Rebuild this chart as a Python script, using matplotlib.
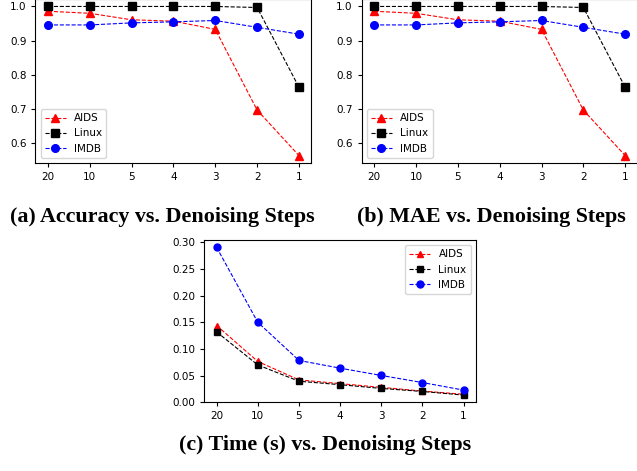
import matplotlib
matplotlib.use("Agg")
import matplotlib.pyplot as plt

steps = ["20", "10", "5", "4", "3", "2", "1"]

acc_aids = [0.986, 0.980, 0.961, 0.957, 0.933, 0.697, 0.564]
acc_linux = [1.000, 1.000, 1.000, 1.000, 1.000, 0.997, 0.764]
acc_imdb = [0.946, 0.946, 0.952, 0.955, 0.959, 0.939, 0.919]

mae_aids = [0.986, 0.980, 0.961, 0.957, 0.933, 0.697, 0.564]
mae_linux = [1.000, 1.000, 1.000, 1.000, 1.000, 0.997, 0.764]
mae_imdb = [0.946, 0.946, 0.952, 0.955, 0.959, 0.939, 0.919]

time_aids = [0.144, 0.0765, 0.042, 0.035, 0.028, 0.021, 0.015]
time_linux = [0.132, 0.070, 0.0395, 0.033, 0.026, 0.0203, 0.0135]
time_imdb = [0.2906, 0.150, 0.0785, 0.064, 0.0503, 0.037, 0.0229]

captions = ["(a) Accuracy vs. Denoising Steps",
            "(b) MAE vs. Denoising Steps",
            "(c) Time (s) vs. Denoising Steps"]

plt.rcParams['font.family'] = ['DejaVu Sans']
plt.rcParams['font.size'] = 7.5

fig = plt.figure(figsize=(6.37, 4.71), dpi=100)
ax_a = fig.add_axes([0.0557, 0.6539, 0.4333, 0.3482])
ax_b = fig.add_axes([0.5678, 0.6539, 0.4333, 0.3482])
ax_c = fig.add_axes([0.3207, 0.1459, 0.4265, 0.3446])

def draw(ax, a, l, i, loc, ms):
    x = range(len(steps))
    ax.plot(x, a, '--', color='red', marker='^', lw=0.8, ms=ms, label='AIDS')
    ax.plot(x, l, '--', color='black', marker='s', lw=0.8, ms=ms, label='Linux')
    ax.plot(x, i, '--', color='blue', marker='o', lw=0.8, ms=ms, label='IMDB')
    ax.set_xticks(list(x))
    ax.set_xticklabels(steps)
    ax.tick_params(labelsize=7.5, length=3)
    ax.legend(loc=loc, fontsize=7.5)

draw(ax_a, acc_aids, acc_linux, acc_imdb, 'lower left', 5.5)
draw(ax_b, mae_aids, mae_linux, mae_imdb, 'lower left', 5.5)
draw(ax_c, time_aids, time_linux, time_imdb, 'upper right', 5)
ax_c.set_ylim(bottom=0)

cap_font = dict(family='Liberation Serif', weight='bold', size=15.8, ha='center', va='center')
fig.text(0.2543, 0.540, captions[0], **cap_font)
fig.text(0.7716, 0.540, captions[1], **cap_font)
fig.text(0.510, 0.055, captions[2], **cap_font)

fig.savefig("out.png", dpi=100)
